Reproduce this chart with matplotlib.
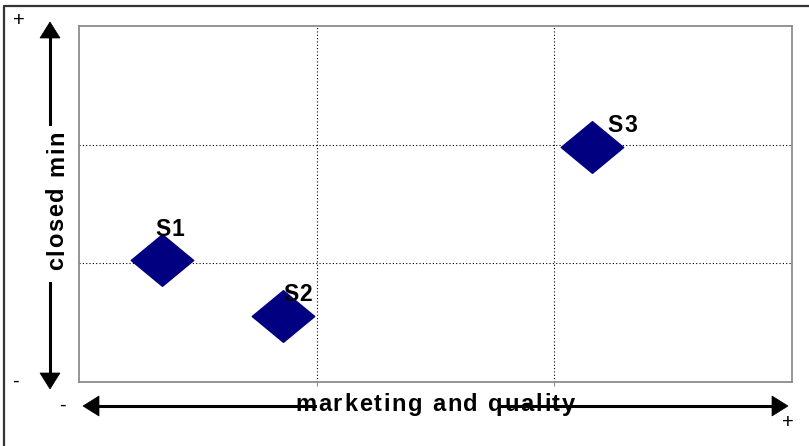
import numpy as np
import matplotlib
matplotlib.use("Agg")
import matplotlib.pyplot as plt
from matplotlib.path import Path
from matplotlib.lines import Line2D
from matplotlib.patches import Polygon, Rectangle
from matplotlib.transforms import Bbox, IdentityTransform
from matplotlib.font_manager import FontProperties

# positioning of suppliers on two dimensions
names = ["S1", "S2", "S3"]
marketing_quality = [0.35, 0.86, 2.16]
closed_mind = [1.03, 0.56, 1.98]

W, H = 809, 446
plt.rcParams["font.family"] = ["Liberation Sans", "DejaVu Sans"]

fig = plt.figure(figsize=(W / 100, H / 100), dpi=100)
renderer = fig.canvas.get_renderer()
pix = IdentityTransform()


def px(x, y):
    # pixel position (origin top-left) -> figure fraction
    return x / W, 1 - y / H


def spaced_text(x, y, s, size, spacing, rotation=0, center=False, clip=None, zorder=7):
    # bold text with extra letter spacing; x, y in display pixels at the baseline start
    prop = FontProperties(family="Liberation Sans", weight="bold", size=size)
    widths = [0.0] + [renderer.get_text_width_height_descent(s[:i], prop, ismath=False)[0]
                      for i in range(1, len(s) + 1)]
    total = widths[-1] + spacing * (len(s) - 1)
    d = np.array([1.0, 0.0]) if rotation == 0 else np.array([0.0, 1.0])
    start = np.array([x, y], float) - (d * total / 2 if center else 0)
    for i, ch in enumerate(s):
        if ch == " ":
            continue
        p = start + d * (widths[i] + i * spacing)
        t = fig.text(p[0], p[1], ch, transform=pix, fontproperties=prop,
                     rotation=rotation, rotation_mode="anchor",
                     ha="left", va="baseline", zorder=zorder)
        if clip is not None:
            t.set_clip_box(clip)
            t.set_clip_on(True)


left, top, right, bottom = 79, 26, 792, 382
ax = fig.add_axes([left / W, 1 - bottom / H, (right - left) / W, (bottom - top) / H])
ax.set_xlim(0, 3)
ax.set_ylim(0, 3)
ax.set_xticks([1, 2])
ax.set_yticks([1, 2])
ax.set_xticklabels([])
ax.set_yticklabels([])
ax.tick_params(axis="x", length=3, color="#8c8c8c", direction="out")
ax.tick_params(axis="y", length=0)
ax.grid(True, color="black", linestyle=(0, (1, 2)), linewidth=0.8)
for sp in ax.spines.values():
    sp.set_color("#8c8c8c")
    sp.set_linewidth(1.3)

# flat diamond marker, wider than tall
diamond = Path([(0, 1), (1.21, 0), (0, -1), (-1.21, 0), (0, 1)],
               [Path.MOVETO, Path.LINETO, Path.LINETO, Path.LINETO, Path.CLOSEPOLY])
ax.plot(marketing_quality, closed_mind, linestyle="none", marker=diamond,
        markersize=45, color="#000080", zorder=3)

# supplier names, offset in pixels from each marker (label centre, baseline)
label_offsets = [(8, 24), (14, 15), (30, 15)]
for n, x, y, off in zip(names, marketing_quality, closed_mind, label_offsets):
    cx, cy = ax.transData.transform((x, y))
    spaced_text(cx + off[0], cy + off[1], n, 16.5, 1.0, center=True, zorder=8)


def arrow(p0, p1, head_len=16, head_w=20, lw=2.2):
    # double headed arrow between two pixel positions
    p0, p1 = np.array(p0, float), np.array(p1, float)
    d = (p1 - p0) / np.hypot(*(p1 - p0))
    n = np.array([-d[1], d[0]])
    a0, a1 = p0 + d * head_len, p1 - d * head_len
    fig.add_artist(Line2D(*zip(px(*a0), px(*a1)), color="black", linewidth=lw, zorder=5))
    for tip, base in ((p0, a0), (p1, a1)):
        pts = [tip, base + n * head_w / 2, base - n * head_w / 2]
        fig.add_artist(Polygon([px(*q) for q in pts], closed=True,
                               facecolor="black", edgecolor="black", lw=0.5, zorder=5))


arrow((50, 22), (50, 389))
arrow((83, 406), (788, 406))

# white gaps behind the axis titles
fig.add_artist(Rectangle(px(40, 282), 20 / W, 156 / H, facecolor="white",
                         edgecolor="none", zorder=6))
fig.add_artist(Rectangle(px(317, 413), 181 / W, 14 / H, facecolor="white",
                         edgecolor="none", zorder=6))

spaced_text(295, H - 410.7, "marketing and quality", 17, 1.75)
ylab_clip = Bbox([[30, H - 282], [80, H - 131]])
spaced_text(63, H - 270, "closed mind", 17, 1.8, rotation=90, clip=ylab_clip)

# end signs of the two scales
for (x, y), s in (((19, 21), "+"), ((15, 381), "-"), ((62, 405), "-"), ((788, 422), "+")):
    fig.text(*px(x, y), s, ha="center", va="center", fontsize=14.5, zorder=7)

# outer frame (left and top edges)
fig.add_artist(Line2D([4 / W, 4 / W, 1], [0, 1 - 6 / H, 1 - 6 / H],
                      color="#333333", linewidth=1.6, zorder=8))

fig.savefig("out.png", dpi=100)
